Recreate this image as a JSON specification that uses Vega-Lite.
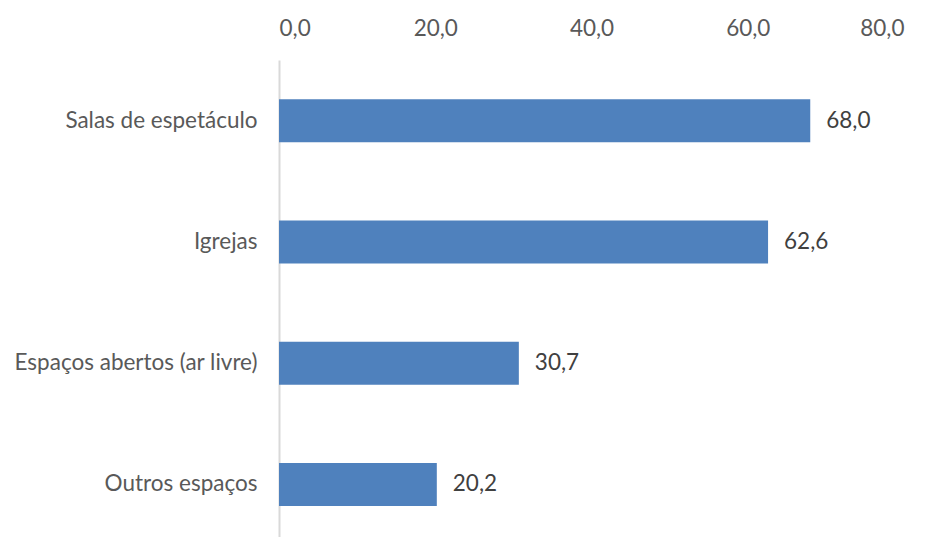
{
  "$schema": "https://vega.github.io/schema/vega-lite/v6.json",
  "autosize": {"type": "none"},
  "width": 625,
  "height": 485,
  "padding": {"left": 279, "top": 60, "right": 25, "bottom": 0},
  "background": "white",
  "config": {
    "view": {"stroke": null},
    "font": "Lato",
    "locale": {
      "number": {"decimal": ",", "thousands": ".", "grouping": [3], "currency": ["", " €"]}
    }
  },
  "data": {
    "values": [
      {"local": "Salas de espetáculo", "valor": 68.0},
      {"local": "Igrejas", "valor": 62.6},
      {"local": "Espaços abertos (ar livre)", "valor": 30.7},
      {"local": "Outros espaços", "valor": 20.2}
    ]
  },
  "encoding": {
    "y": {
      "field": "local",
      "type": "nominal",
      "sort": null,
      "scale": {"paddingInner": 0, "paddingOuter": 0},
      "axis": {
        "title": null,
        "ticks": false,
        "domainColor": "#d9d9d9",
        "domainWidth": 2,
        "labelFontSize": 22.5,
        "labelColor": "#595959",
        "labelPadding": 22,
        "labelLimit": 400
      }
    },
    "x": {
      "field": "valor",
      "type": "quantitative",
      "scale": {"domain": [0, 80]},
      "axis": {
        "orient": "top",
        "title": null,
        "values": [0, 20, 40, 60, 80],
        "format": ".1f",
        "grid": false,
        "ticks": false,
        "domain": false,
        "labelFontSize": 22.5,
        "labelColor": "#595959",
        "labelPadding": 20
      }
    }
  },
  "layer": [
    {"mark": {"type": "bar", "size": 43, "color": "#4f81bd"}},
    {
      "mark": {"type": "text", "align": "left", "dx": 16, "fontSize": 22.5, "color": "#404040"},
      "encoding": {"text": {"field": "valor", "type": "quantitative", "format": ".1f"}}
    }
  ]
}
